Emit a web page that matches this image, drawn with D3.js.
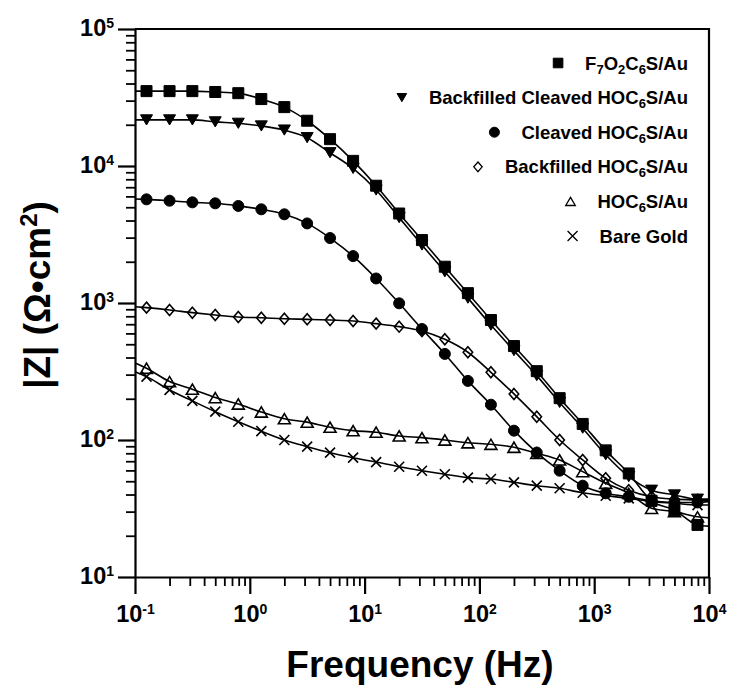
<!DOCTYPE html>
<html>
<head>
<meta charset="utf-8">
<script src="https://cdn.jsdelivr.net/npm/d3@7"></script>
<style>
  html, body { margin: 0; padding: 0; background: #fff; }
  svg { display: block; font-family: "Liberation Sans", Arial, Helvetica, sans-serif; font-weight: bold; }
</style>
</head>
<body>
<svg id="chart" width="733" height="692"></svg>
<script>
// Measurement frequencies (Hz)
const freqs = [0.126, 0.2, 0.316, 0.5, 0.794, 1.26, 2, 3.16, 5, 7.94, 12.6, 20, 31.6, 50, 79.4, 126, 200, 316, 500, 794, 1260, 2000, 3160, 5000, 7940];

// |Z| (ohm cm^2) for each monolayer
const zF7O2C6S = [35200, 35200, 35200, 34700, 34000, 30800, 26900, 21400, 15700, 10900, 7180, 4500, 2880, 1840, 1180, 751, 485, 318, 202, 131, 84, 57, 36, 30.8, 24];
const zBackCleaved = [21700, 21700, 21700, 21000, 20500, 19600, 18300, 16100, 12500, 9600, 6680, 4200, 2650, 1690, 1085, 690, 449, 295, 188, 122, 78, 54, 43, 39.7, 37];
const zCleaved = [5710, 5580, 5430, 5340, 5110, 4830, 4440, 3810, 2980, 2200, 1510, 995, 646, 425, 270, 181, 117, 81, 59.7, 46.4, 40.8, 38.5, 36, 35, 35];
const zBackfilled = [925, 890, 850, 817, 790, 780, 768, 760, 751, 739, 707, 672, 625, 543, 437, 312, 217, 148, 100, 71.5, 52.5, 43, 38.5, 37, 36.5];
const zHOC6S = [334, 267, 235, 204, 183, 160, 143, 135, 124, 117, 114, 107, 104, 100, 95.5, 93, 88.5, 80, 71.5, 58.8, 48.3, 40.8, 31.7, 30, 27.5];
const zBareGold = [290, 232, 193, 161, 136, 116, 100, 89.4, 80.8, 74.3, 69, 63.8, 59.7, 56.2, 53.1, 51.9, 49.1, 46.4, 44.4, 41.2, 39.2, 37.5, 35.5, 34.5, 33.5];

// Fitted-curve values at the ends of the frequency window (0.1 Hz, 10 kHz)
const fitEdgeFreqs = [0.1, 10000];
const fitF7O2C6S = [35200, 23.5];
const fitBackCleaved = [21700, 37];
const fitCleaved = [5750, 35.5];
const fitBackfilled = [940, 36];
const fitHOC6S = [365, 27];
const fitBareGold = [315, 33.5];

// Legend labels ("_" marks the next character as a subscript)
const seriesLabels = ["F_7O_2C_6S/Au", "Backfilled Cleaved HOC_6S/Au", "Cleaved HOC_6S/Au", "Backfilled HOC_6S/Au", "HOC_6S/Au", "Bare Gold"];
const seriesMarkers = ["square", "triangleDown", "circle", "diamond", "triangleUp", "cross"];

// Axis ticks
const xMajor = [0.1, 1, 10, 100, 1000, 10000];
const xMajorExp = ["-1", "0", "1", "2", "3", "4"];
const yMajor = [10, 100, 1000, 10000, 100000];
const yMajorExp = ["1", "2", "3", "4", "5"];

const series = [
  { values: zF7O2C6S, fit: fitF7O2C6S },
  { values: zBackCleaved, fit: fitBackCleaved },
  { values: zCleaved, fit: fitCleaved },
  { values: zBackfilled, fit: fitBackfilled },
  { values: zHOC6S, fit: fitHOC6S },
  { values: zBareGold, fit: fitBareGold }
].map((s, i) => ({ ...s, label: seriesLabels[i], marker: seriesMarkers[i] }));

const svg = d3.select("#chart");
const plotLeft = 135, plotRight = 709, plotTop = 29, plotBottom = 577;

const x = d3.scaleLog().domain([0.1, 10000]).range([plotLeft, plotRight]);
const y = d3.scaleLog().domain([10, 100000]).range([plotBottom, plotTop]);

function minorTicks(scale) {
  const [a, b] = scale.domain();
  const out = [];
  for (let e = Math.round(Math.log10(a)); e < Math.round(Math.log10(b)); e++) {
    for (let m = 2; m <= 9; m++) out.push(m * Math.pow(10, e));
  }
  return out;
}

// Minor ticks
svg.append("g").attr("transform", `translate(0,${plotBottom})`)
  .call(d3.axisBottom(x).tickValues(minorTicks(x)).tickSize(9).tickSizeOuter(0).tickFormat(() => ""))
  .call(g => g.select(".domain").remove())
  .call(g => g.selectAll("line").attr("stroke", "#000").attr("stroke-width", 1.8));
svg.append("g").attr("transform", `translate(${plotLeft},0)`)
  .call(d3.axisLeft(y).tickValues(minorTicks(y)).tickSize(9).tickSizeOuter(0).tickFormat(() => ""))
  .call(g => g.select(".domain").remove())
  .call(g => g.selectAll("line").attr("stroke", "#000").attr("stroke-width", 1.8));

// Major ticks, axis lines and power-of-ten labels
function powerLabel(textSel, exps) {
  textSel.each(function (d, i) {
    const t = d3.select(this).text(null);
    t.append("tspan").text("10");
    t.append("tspan").attr("dy", -8).attr("font-size", 14).text(exps[i]);
  });
}

const gx = svg.append("g").attr("transform", `translate(0,${plotBottom})`)
  .call(d3.axisBottom(x).tickValues(xMajor).tickSize(17).tickSizeOuter(0).tickFormat(() => ""));
gx.select(".domain").attr("stroke", "#000").attr("stroke-width", 2.2);
gx.selectAll(".tick line").attr("stroke", "#000").attr("stroke-width", 2.2);
gx.selectAll(".tick text")
  .attr("y", 45).attr("dy", 0)
  .attr("fill", "#000").attr("font-size", 23.5).attr("font-weight", "bold")
  .attr("font-family", "'Liberation Sans', Arial, sans-serif")
  .call(powerLabel, xMajorExp);

const gy = svg.append("g").attr("transform", `translate(${plotLeft},0)`)
  .call(d3.axisLeft(y).tickValues(yMajor).tickSize(17).tickSizeOuter(0).tickFormat(() => ""));
gy.select(".domain").attr("stroke", "#000").attr("stroke-width", 2.2);
gy.selectAll(".tick line").attr("stroke", "#000").attr("stroke-width", 2.2);
gy.selectAll(".tick text")
  .attr("x", -21).attr("y", 6).attr("dy", 0)
  .attr("fill", "#000").attr("font-size", 23.5).attr("font-weight", "bold")
  .attr("font-family", "'Liberation Sans', Arial, sans-serif")
  .call(powerLabel, yMajorExp);

// Frame (top and right)
svg.append("path")
  .attr("d", `M${plotLeft},${plotTop}H${plotRight}V${plotBottom}`)
  .attr("fill", "none").attr("stroke", "#000").attr("stroke-width", 2.2);

// Axis titles
svg.append("text")
  .attr("x", 420).attr("y", 677)
  .attr("text-anchor", "middle").attr("font-size", 37)
  .text("Frequency (Hz)");

const yTitle = svg.append("text")
  .attr("transform", "translate(50,295) rotate(-90)")
  .attr("text-anchor", "middle").attr("font-size", 37);
yTitle.append("tspan").text("|Z| (\u03A9\u2022cm");
yTitle.append("tspan").attr("dy", -13).attr("font-size", 24).text("2");
yTitle.append("tspan").attr("dy", 13).text(")");

// Marker shapes
function markerPath(kind, s) {
  switch (kind) {
    case "square": return `M${-s},${-s}H${s}V${s}H${-s}Z`;
    case "circle": return d3.symbol(d3.symbolCircle, Math.PI * s * s)();
    case "triangleDown": { const h = s * 1.7; return `M${-s},${-h / 2}H${s}L0,${h / 2}Z`; }
    case "triangleUp": { const h = s * 1.7; return `M${-s},${h / 2}H${s}L0,${-h / 2}Z`; }
    case "diamond": return `M0,${-s * 1.1}L${s * 0.95},0L0,${s * 1.1}L${-s * 0.95},0Z`;
    case "cross": return `M${-s},${-s}L${s},${s}M${-s},${s}L${s},${-s}`;
  }
}
const filled = { square: true, circle: true, triangleDown: true, triangleUp: false, diamond: false, cross: false };
const dataSize = { square: 5.5, circle: 5.5, triangleDown: 6, triangleUp: 6, diamond: 5, cross: 5 };
const legendSize = { square: 4.8, circle: 5, triangleDown: 4.8, triangleUp: 4.8, diamond: 4.4, cross: 5 };

// Curves
const line = d3.line()
  .x(d => x(d.f)).y(d => y(d.z))
  .curve(d3.curveMonotoneX);

const plot = svg.append("g");
series.forEach(s => {
  const pts = [{ f: fitEdgeFreqs[0], z: s.fit[0] }]
    .concat(freqs.map((f, i) => ({ f, z: s.values[i] })))
    .concat([{ f: fitEdgeFreqs[1], z: s.fit[1] }]);
  plot.append("path")
    .attr("d", line(pts))
    .attr("fill", "none").attr("stroke", "#000").attr("stroke-width", 1.6);
});

series.forEach(s => {
  plot.append("g").selectAll("path")
    .data(freqs.map((f, i) => ({ f, z: s.values[i] })))
    .join("path")
    .attr("transform", d => `translate(${x(d.f)},${y(d.z)})`)
    .attr("d", markerPath(s.marker, dataSize[s.marker]))
    .attr("fill", filled[s.marker] ? "#000" : "none")
    .attr("stroke", "#000")
    .attr("stroke-width", filled[s.marker] ? 1 : 1.6);
});

// Legend
const legendRight = 688, legendTop = 69.5, legendStep = 34.6;
const legend = svg.append("g");
series.forEach((s, i) => {
  const by = legendTop + i * legendStep;
  const t = legend.append("text")
    .attr("x", legendRight).attr("y", by)
    .attr("text-anchor", "end").attr("font-size", 18.5);
  const parts = s.label.split("_");
  parts.forEach((p, j) => {
    if (j === 0) { t.append("tspan").text(p); return; }
    t.append("tspan").attr("dy", 4).attr("font-size", 13).text(p[0]);
    t.append("tspan").attr("dy", -4).text(p.slice(1));
  });
  const bb = t.node().getBBox();
  legend.append("path")
    .attr("transform", `translate(${bb.x - 27},${by - 6.5})`)
    .attr("d", markerPath(s.marker, legendSize[s.marker]))
    .attr("fill", filled[s.marker] ? "#000" : "none")
    .attr("stroke", "#000")
    .attr("stroke-width", filled[s.marker] ? 1 : 1.3);
});
</script>
</body>
</html>
